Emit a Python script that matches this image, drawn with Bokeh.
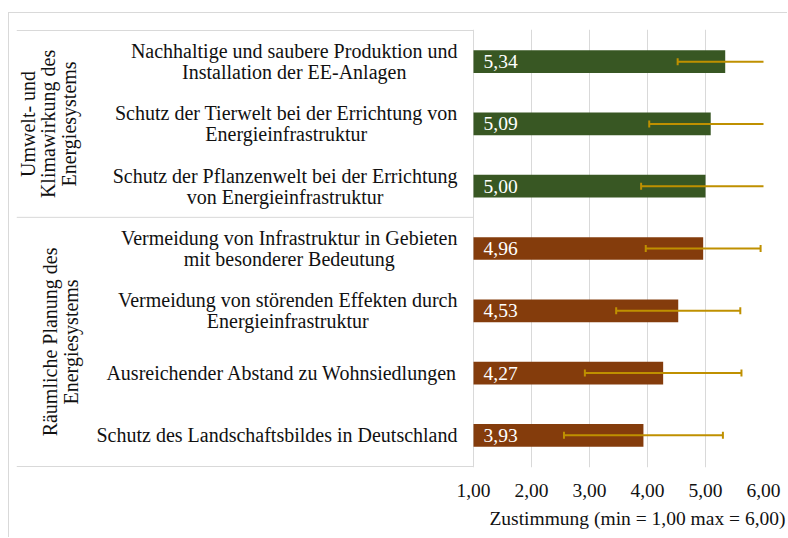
import numpy as np
from bokeh.plotting import figure
from bokeh.models import ColumnDataSource, FixedTicker, Range1d, Title
from bokeh.core.properties import value
from bokeh.embed import file_html
from bokeh.resources import INLINE

# ---------------- data ----------------
categories = [
    "Nachhaltige und saubere Produktion und\nInstallation der EE-Anlagen",
    "Schutz der Tierwelt bei der Errichtung von\nEnergieinfrastruktur",
    "Schutz der Pflanzenwelt bei der Errichtung\nvon Energieinfrastruktur",
    "Vermeidung von Infrastruktur in Gebieten\nmit besonderer Bedeutung",
    "Vermeidung von störenden Effekten durch\nEnergieinfrastruktur",
    "Ausreichender Abstand zu Wohnsiedlungen",
    "Schutz des Landschaftsbildes in Deutschland",
]
means = [5.34, 5.09, 5.00, 4.96, 4.53, 4.27, 3.93]
sds = [0.82, 1.06, 1.11, 0.99, 1.07, 1.35, 1.37]
groups = [
    "Umwelt- und\nKlimawirkung des\nEnergiesystems",
    "Räumliche Planung des\nEnergiesystems",
]
group_sizes = [3, 4]
tick_values = [1, 2, 3, 4, 5, 6]
tick_labels = ["1,00", "2,00", "3,00", "4,00", "5,00", "6,00"]
axis_title = "Zustimmung (min = 1,00 max = 6,00)"

# ---------------- styles ----------------
FONT = value("Liberation Serif")
FSIZE = "19.5px"
CSIZE = "20px"
group_colors = ["#385723", "#843C0C"]
err_color = "#BF9000"
line_gray = "#d9d9d9"

n = len(categories)
ys = [n - i - 0.5 for i in range(n)]
colors = []
for g, s in enumerate(group_sizes):
    colors += [group_colors[g]] * s
lows = [m - s for m, s in zip(means, sds)]
highs = [m + s for m, s in zip(means, sds)]
val_labels = [f"{m:.2f}".replace(".", ",") for m in means]

src = ColumnDataSource(dict(y=ys, mean=means, lo=lows, hi=highs, color=colors,
                            cat=categories, lab=val_labels))

# geometry (pixels) -> ranges
px_per_unit = 58.0
x_start = 1 - (473 - 16) / px_per_unit
pad = 1 / 62.29

p = figure(width=779, height=525, output_backend="svg", toolbar_location=None,
           x_range=Range1d(x_start, 6), y_range=Range1d(-pad, n + pad),
           min_border_left=7, min_border_right=25, min_border_top=16,
           min_border_bottom=71)
p.styles = {"border-top": "1px solid #d9d9d9", "border-left": "1px solid #d9d9d9",
            "margin-top": "12px", "margin-left": "8px"}
p.outline_line_color = None
p.background_fill_color = "white"
p.border_fill_color = "white"

# axes / grid
p.yaxis.visible = False
p.ygrid.grid_line_color = None
p.xaxis.ticker = FixedTicker(ticks=tick_values)
p.xaxis.major_label_overrides = {t: l for t, l in zip(tick_values, tick_labels)}
p.xaxis.axis_line_color = None
p.xaxis.major_tick_line_color = None
p.xaxis.minor_tick_line_color = None
p.xaxis.major_label_standoff = 10
p.xaxis.major_label_text_font = "Liberation Serif"
p.xaxis.major_label_text_font_size = FSIZE
p.xaxis.major_label_text_color = "#111111"
p.xgrid.grid_line_color = line_gray
p.xgrid.grid_line_width = 1

# axis title (as a title placed below, right aligned)
p.add_layout(Title(text=axis_title, align="right", offset=-22, standoff=12,
                   text_font="Liberation Serif", text_font_size=FSIZE,
                   text_font_style="normal", text_color="#111111"), "below")

# table lines on the left (group boundaries)
bounds = [n]
acc = n
for s in group_sizes:
    acc -= s
    bounds.append(acc)
p.segment(x0=[x_start] * len(bounds), y0=bounds, x1=[1] * len(bounds), y1=bounds,
          line_color=line_gray, line_width=1)

# bars
p.hbar(y="y", left=1, right="mean", height=0.365, fill_color="color",
       line_color=None, source=src)

# error bars
p.segment(x0="lo", y0="y", x1="hi", y1="y", line_color=err_color, line_width=2,
          source=src)
p.scatter(x="lo", y="y", marker="dash", angle=np.pi / 2, size=7,
          line_color=err_color, line_width=2, source=src)
p.scatter(x="hi", y="y", marker="dash", angle=np.pi / 2, size=7,
          line_color=err_color, line_width=2, source=src)

# value labels
p.text(x=1, y="y", text="lab", x_offset=10, text_align="left",
       text_baseline="middle", text_color="white", text_font=FONT,
       text_font_size=FSIZE, source=src)

# category labels
p.text(x=1, y="y", text="cat", x_offset=-16, anchor="center_right",
       text_align="center", text_baseline="middle", text_color="#111111",
       text_font=FONT, text_font_size=CSIZE, text_line_height=0.95, source=src)

# group labels
gy = []
top = n
for s in group_sizes:
    gy.append(top - s / 2)
    top -= s
p.text(x=[x_start] * 2, y=gy, text=groups, x_offset=[32, 44], angle=np.pi / 2,
       anchor="center", text_align="center", text_baseline="middle",
       text_color="#111111", text_font=FONT, text_font_size=CSIZE,
       text_line_height=0.95)

open("out.html", "w").write(file_html(p, INLINE))
